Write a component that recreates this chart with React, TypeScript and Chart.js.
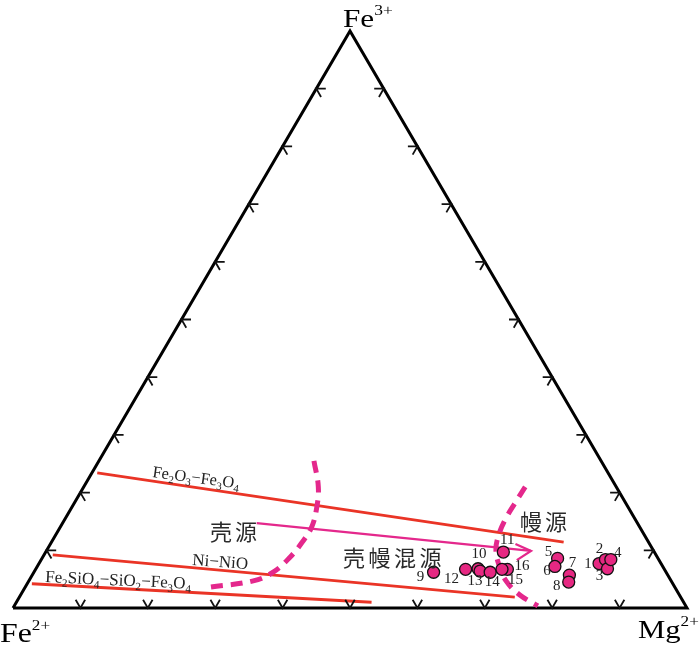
import React, { useEffect, useRef } from 'react';
import { Chart, registerables } from 'chart.js';

Chart.register(...registerables);

// ---------- data (ternary percentages: Mg2+, Fe3+; Fe2+ = 100 - Mg - Fe3) ----------
const SAMPLE_IDS = ['1', '2', '3', '4', '5', '6', '7', '8', '9', '10', '11', '12', '13', '14', '15', '16'];
const SAMPLE_MG = [83.1, 83.7, 84.8, 84.5, 76.5, 76.8, 79.7, 80.2, 59.3, 65.6, 67.9, 63.8, 66.1, 67.7, 70.0, 69.2];
const SAMPLE_FE3 = [7.7, 8.4, 6.8, 8.4, 8.6, 7.2, 5.7, 4.5, 6.2, 6.8, 9.7, 6.7, 6.4, 6.2, 6.7, 6.7];

const TRIANGLE_MG = [0, 100, 0, 0];
const TRIANGLE_FE3 = [0, 0, 100, 0];

const HM_MG = [0.8, 76.0];
const HM_FE3 = [23.4, 11.4];
const NNO_MG = [1.3, 73.5];
const NNO_FE3 = [9.2, 1.9];
const FMQ_MG = [0.7, 52.7];
const FMQ_FE3 = [4.2, 1.0];

const ARROW_MG = [28.8, 71.9];
const ARROW_FE3 = [14.7, 9.9];
const ARROW_HEAD_MG = [69.0, 71.9, 70.6];
const ARROW_HEAD_FE3 = [11.1, 9.9, 8.3];

const CRUST_BOUND_MG = [31.9, 34.8, 36.4, 37.3, 37.2, 36.7, 35.5, 33.3, 27.4];
const CRUST_BOUND_FE3 = [25.5, 21.0, 17.3, 14.0, 11.4, 8.8, 6.2, 4.7, 3.6];
const MANTLE_BOUND_MG = [65.5, 65.4, 65.35, 65.7, 66.6, 68.5, 70.8, 74.0, 77.7];
const MANTLE_BOUND_FE3 = [21.0, 18.4, 15.6, 12.8, 10.1, 7.3, 4.7, 2.3, 0.35];

const TICKS = [10, 20, 30, 40, 50, 60, 70, 80, 90];

// label offsets (px) for sample numbers, relative to the point
const LABEL_OFFSETS: [number, number][] = [
  [-11, 0], [-6, -10], [-8, 7], [7, -6], [-9, -6], [-8, 5], [3, -12], [-12, 4],
  [-13, 5], [1, -15], [4, -12], [-14, 10], [-5, 10], [2, 10], [8, 11], [20, -3],
];

const toXY = (mg: number, fe3: number) => ({ x: mg / 100 + fe3 / 200, y: fe3 / 100 });
const series = (mg: number[], fe3: number[]) => mg.map((m, i) => toXY(m, fe3[i]));

const RED = 'rgb(234,52,38)';
const MAGENTA = 'rgb(228,40,140)';
const SERIF = '"Liberation Serif", "Times New Roman", serif';
const CJK = '"Noto Sans CJK SC", sans-serif';

type Part = { t: string; sub?: boolean; sup?: boolean };

function drawRich(ctx: CanvasRenderingContext2D, parts: Part[], x: number, y: number, angle: number, size: number, color: string, scaleX = 1, supShift = 0.5, small = 0.62) {
  ctx.save();
  ctx.translate(x, y);
  ctx.rotate(angle);
  ctx.scale(scaleX, 1);
  ctx.fillStyle = color;
  ctx.textBaseline = 'alphabetic';
  ctx.textAlign = 'left';
  let cx = 0;
  for (const p of parts) {
    const s = p.sub || p.sup ? size * small : size;
    ctx.font = `${s}px ${SERIF}`;
    const dy = p.sub ? size * 0.22 : p.sup ? -size * supShift : 0;
    ctx.fillText(p.t, cx, dy);
    cx += ctx.measureText(p.t).width;
  }
  ctx.restore();
}

function drawCJK(ctx: CanvasRenderingContext2D, text: string, x: number, cy: number, pitch: number, size: number) {
  ctx.save();
  ctx.font = `${size}px ${CJK}`;
  ctx.fillStyle = '#2a2a2a';
  ctx.textBaseline = 'middle';
  ctx.textAlign = 'left';
  Array.from(text).forEach((ch, i) => ctx.fillText(ch, x + i * pitch, cy));
  ctx.restore();
}

const ternaryPlugin = {
  id: 'ternaryDecor',
  afterDatasetsDraw(chart: any) {
    const ctx: CanvasRenderingContext2D = chart.ctx;
    const xs = chart.scales.x;
    const ys = chart.scales.y;
    const px = (mg: number, fe3: number) => {
      const p = toXY(mg, fe3);
      return [xs.getPixelForValue(p.x), ys.getPixelForValue(p.y)];
    };

    // ticks
    const L = 9.5;
    const c60 = 0.5, s60 = Math.sqrt(3) / 2;
    ctx.save();
    ctx.strokeStyle = '#111';
    ctx.lineWidth = 1.8;
    ctx.lineJoin = 'miter';
    const arm = (x: number, y: number, a: [number, number], b: [number, number]) => {
      ctx.beginPath();
      ctx.moveTo(x + a[0] * L, y + a[1] * L);
      ctx.lineTo(x, y);
      ctx.lineTo(x + b[0] * L, y + b[1] * L);
      ctx.stroke();
    };
    for (const t of TICKS) {
      const [bx, by] = px(t, 0);
      arm(bx, by, [-c60, -s60], [c60, -s60]);
      const [lx, ly] = px(0, t);
      arm(lx, ly, [1, 0], [c60, s60]);
      const [rx, ry] = px(100 - t, t);
      arm(rx, ry, [-1, 0], [-c60, s60]);
    }
    ctx.restore();

    // sample labels
    ctx.save();
    ctx.font = `15px ${SERIF}`;
    ctx.fillStyle = '#222';
    ctx.textAlign = 'center';
    ctx.textBaseline = 'middle';
    SAMPLE_IDS.forEach((id, i) => {
      const [x, y] = px(SAMPLE_MG[i], SAMPLE_FE3[i]);
      ctx.fillText(id, x + LABEL_OFFSETS[i][0], y + LABEL_OFFSETS[i][1]);
    });
    ctx.restore();

    // buffer labels
    const ang = (mg: number[], fe3: number[]) => {
      const [x0, y0] = px(mg[0], fe3[0]);
      const [x1, y1] = px(mg[1], fe3[1]);
      return Math.atan2(y1 - y0, x1 - x0);
    };
    drawRich(ctx, [
      { t: 'Fe' }, { t: '2', sub: true }, { t: 'O' }, { t: '3', sub: true }, { t: '\u2212' },
      { t: 'Fe' }, { t: '3', sub: true }, { t: 'O' }, { t: '4', sub: true },
    ], 152, 477, ang(HM_MG, HM_FE3) * 0.9, 16.5, '#222', 1, 0.5, 0.65);
    drawRich(ctx, [{ t: 'Ni\u2212NiO' }], 192, 565, ang(NNO_MG, NNO_FE3) * 0.8, 17, '#222');
    drawRich(ctx, [
      { t: 'Fe' }, { t: '2', sub: true }, { t: 'SiO' }, { t: '4', sub: true }, { t: '\u2212SiO' },
      { t: '2', sub: true }, { t: '\u2212Fe' }, { t: '3', sub: true }, { t: 'O' }, { t: '4', sub: true },
    ], 45, 582, ang(FMQ_MG, FMQ_FE3) * 0.85, 17, '#222', 1, 0.5, 0.65);

    // region labels
    drawCJK(ctx, '壳源', 210, 532, 25, 22);
    drawCJK(ctx, '壳幔混源', 343, 558, 25.5, 22);
    drawCJK(ctx, '幔源', 520, 522, 25, 22);

    // vertex labels
    drawRich(ctx, [{ t: 'Fe' }, { t: '3+', sup: true }], 343, 27, 0, 26, '#000', 1.2, 0.48, 0.56);
    drawRich(ctx, [{ t: 'Fe' }, { t: '2+', sup: true }], 0, 642, 0, 27, '#000', 1.18, 0.45, 0.54);
    drawRich(ctx, [{ t: 'Mg' }, { t: '2+', sup: true }], 638, 638, 0, 26, '#000', 1.18, 0.48, 0.56);
  },
};

export default function App() {
  const ref = useRef<HTMLCanvasElement>(null);
  useEffect(() => {
    document.body.style.margin = '0';
    const lineDs = (data: any[], color: string, width: number, extra: any = {}) => ({
      type: 'scatter',
      data,
      showLine: true,
      borderColor: color,
      backgroundColor: color,
      borderWidth: width,
      pointRadius: 0,
      pointHoverRadius: 0,
      fill: false,
      clip: false,
      ...extra,
    });
    const chart = new Chart(ref.current!, {
      type: 'scatter',
      data: {
        datasets: [
          {
            data: series(SAMPLE_MG, SAMPLE_FE3),
            pointRadius: 6,
            pointBackgroundColor: 'rgb(230,40,130)',
            pointBorderColor: '#111',
            pointBorderWidth: 1.3,
            showLine: false,
            clip: false,
            order: 0,
          } as any,
          lineDs(series(ARROW_MG, ARROW_FE3), MAGENTA, 2.3, { order: 1 }),
          lineDs(series(ARROW_HEAD_MG, ARROW_HEAD_FE3), MAGENTA, 2.3, { order: 1, borderJoinStyle: 'miter' }),
          lineDs(series(CRUST_BOUND_MG, CRUST_BOUND_FE3), MAGENTA, 5, { order: 2, borderDash: [12, 8], tension: 0.4, borderCapStyle: 'butt' }),
          lineDs(series(MANTLE_BOUND_MG, MANTLE_BOUND_FE3), MAGENTA, 5, { order: 2, borderDash: [12, 8], tension: 0.4, borderCapStyle: 'butt' }),
          lineDs(series(HM_MG, HM_FE3), RED, 2.8, { order: 3 }),
          lineDs(series(NNO_MG, NNO_FE3), RED, 2.8, { order: 3 }),
          lineDs(series(FMQ_MG, FMQ_FE3), RED, 2.8, { order: 3 }),
          lineDs(series(TRIANGLE_MG, TRIANGLE_FE3), '#000', 3, { order: 4, borderJoinStyle: 'miter' }),
        ] as any,
      },
      options: {
        animation: false,
        responsive: false,
        devicePixelRatio: 1,
        events: [],
        layout: { padding: { left: 13, right: 13, top: 31, bottom: 39 } },
        scales: {
          x: { type: 'linear', min: 0, max: 1, display: false },
          y: { type: 'linear', min: 0, max: 1, display: false },
        },
        plugins: { legend: { display: false }, tooltip: { enabled: false } },
      },
      plugins: [ternaryPlugin],
    });
    return () => chart.destroy();
  }, []);
  return <canvas ref={ref} width={700} height={647} style={{ display: 'block', width: 700, height: 647 }} />;
}
